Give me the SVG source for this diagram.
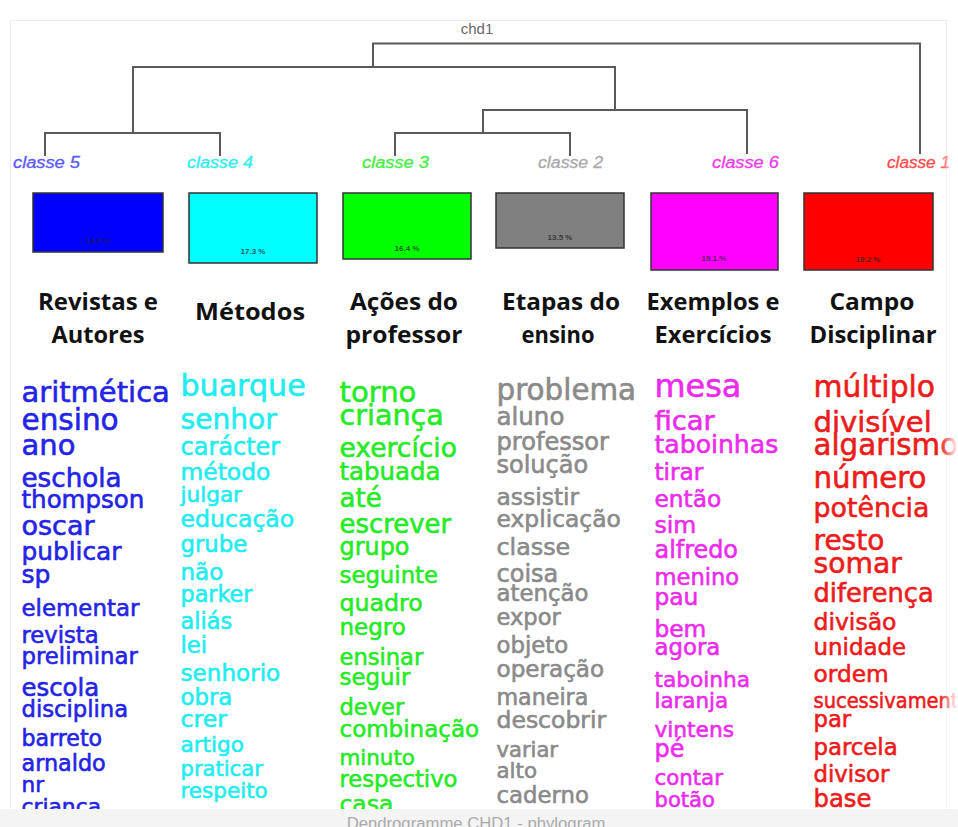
<svg xmlns="http://www.w3.org/2000/svg" width="958" height="827" viewBox="0 0 958 827">
<defs>
<style>
.frame{fill:none;stroke:#ececec;stroke-width:1}
.dl{fill:none;stroke:#5a5a5a;stroke-width:2;stroke-linecap:square}
.cl{font-family:"Liberation Sans",Arial,sans-serif;font-style:italic;font-size:16px;stroke-width:0.3}
.box{stroke:#333;stroke-width:1.5}
.pct{font-family:"Liberation Sans",Arial,sans-serif;font-size:8px;font-weight:bold;fill:#222;fill-opacity:0.75;text-anchor:middle}
.hd{font-family:"Open Sans","DejaVu Sans",sans-serif;font-weight:700;font-size:23px;fill:#111;text-anchor:middle}
.w{font-family:"DejaVu Sans",Verdana,sans-serif;stroke-width:0.6}
.c5{fill:#2424e6;stroke:#2424e6}.c4{fill:#22ecf0;stroke:#22ecf0}.c3{fill:#26ea26;stroke:#26ea26}.c2{fill:#8a8a8a;stroke:#8a8a8a}.c6{fill:#ec2cec;stroke:#ec2cec}.c1{fill:#ec1c1c;stroke:#ec1c1c}
</style>
<clipPath id="wc"><rect x="0" y="370" width="958" height="439"/></clipPath>
<linearGradient id="fade" x1="0" y1="0" x2="1" y2="0">
<stop offset="0" stop-color="#fff" stop-opacity="0"/>
<stop offset="1" stop-color="#fff" stop-opacity="1"/>
</linearGradient>
</defs>
<rect x="0" y="0" width="958" height="827" fill="#fff"/>
<rect class="frame" x="10.5" y="20.5" width="936" height="789"/>
<text x="477" y="34" font-family="Liberation Sans,Arial,sans-serif" font-size="15" fill="#6a6a6a" text-anchor="middle">chd1</text>

<g id="connectors">
<path class="dl" d="M373,67 V43.5 H920 V153"/>
<path class="dl" d="M133,133 V67 H615 V110"/>
<path class="dl" d="M45,155 V133 H220 V155"/>
<path class="dl" d="M483,133 V110 H747 V153"/>
<path class="dl" d="M395,155 V133 H570 V155"/>
</g>

<g id="classe5">
<text class="cl" x="13" y="168" textLength="67" lengthAdjust="spacingAndGlyphs" fill="#5a5aff" stroke="#5a5aff">classe 5</text>
<rect class="box" x="33" y="193" width="130" height="59" fill="#0000ff"/>
<text class="pct" x="98" y="243">14.6 %</text>
<text class="hd" x="98" y="310" textLength="120" lengthAdjust="spacingAndGlyphs">Revistas e</text>
<text class="hd" x="98" y="343" textLength="93" lengthAdjust="spacingAndGlyphs">Autores</text>
<g clip-path="url(#wc)" class="w c5">
<text x="21.5" y="402" font-size="29">aritmética</text>
<text x="21.5" y="430" font-size="29.5">ensino</text>
<text x="21.5" y="455" font-size="29">ano</text>
<text x="21.5" y="487" font-size="26.2">eschola</text>
<text x="21.5" y="508" font-size="24.5">thompson</text>
<text x="21.5" y="535" font-size="27">oscar</text>
<text x="21.5" y="560" font-size="24.8">publicar</text>
<text x="21.5" y="583" font-size="25">sp</text>
<text x="21.5" y="616" font-size="22.9">elementar</text>
<text x="21.5" y="643" font-size="22.7">revista</text>
<text x="21.5" y="664" font-size="22.8">preliminar</text>
<text x="21.5" y="696" font-size="24.4">escola</text>
<text x="21.5" y="717" font-size="22.7">disciplina</text>
<text x="21.5" y="746" font-size="22.1">barreto</text>
<text x="21.5" y="771" font-size="22.3">arnaldo</text>
<text x="21.5" y="792" font-size="21.6">nr</text>
<text x="21.5" y="814" font-size="21.8">criança</text>
</g>
</g>

<g id="classe4">
<text class="cl" x="187" y="168" textLength="66" lengthAdjust="spacingAndGlyphs" fill="#30ecf4" stroke="#30ecf4">classe 4</text>
<rect class="box" x="189" y="193" width="128" height="70" fill="#00ffff"/>
<text class="pct" x="253" y="254">17.3 %</text>
<text class="hd" x="250" y="320" textLength="110" lengthAdjust="spacingAndGlyphs">Métodos</text>
<g clip-path="url(#wc)" class="w c4">
<text x="180.5" y="396" font-size="30.1">buarque</text>
<text x="180.5" y="429" font-size="28.1">senhor</text>
<text x="180.5" y="455" font-size="24">carácter</text>
<text x="180.5" y="480" font-size="23.4">método</text>
<text x="180.5" y="502" font-size="21.6">julgar</text>
<text x="180.5" y="527" font-size="23.6">educação</text>
<text x="180.5" y="552" font-size="22.8">grube</text>
<text x="180.5" y="580" font-size="23">não</text>
<text x="180.5" y="602" font-size="22.3">parker</text>
<text x="180.5" y="629" font-size="22.4">aliás</text>
<text x="180.5" y="653" font-size="22.8">lei</text>
<text x="180.5" y="681" font-size="23.1">senhorio</text>
<text x="180.5" y="705" font-size="22.8">obra</text>
<text x="180.5" y="727" font-size="23.6">crer</text>
<text x="180.5" y="752" font-size="21.6">artigo</text>
<text x="180.5" y="776" font-size="21.1">praticar</text>
<text x="180.5" y="798" font-size="21.5">respeito</text>
</g>
</g>

<g id="classe3">
<text class="cl" x="362" y="168" textLength="67" lengthAdjust="spacingAndGlyphs" fill="#44ee44" stroke="#44ee44">classe 3</text>
<rect class="box" x="343" y="193" width="128" height="66" fill="#00ff00"/>
<text class="pct" x="407" y="251">16.4 %</text>
<text class="hd" x="404" y="310" textLength="108" lengthAdjust="spacingAndGlyphs">Ações do</text>
<text class="hd" x="404" y="343" textLength="117" lengthAdjust="spacingAndGlyphs">professor</text>
<g clip-path="url(#wc)" class="w c3">
<text x="339.5" y="402" font-size="29.1">torno</text>
<text x="339.5" y="425" font-size="28.6">criança</text>
<text x="339.5" y="457" font-size="26.5">exercício</text>
<text x="339.5" y="480" font-size="24.4">tabuada</text>
<text x="339.5" y="507" font-size="26">até</text>
<text x="339.5" y="533" font-size="25.9">escrever</text>
<text x="339.5" y="555" font-size="23.9">grupo</text>
<text x="339.5" y="583" font-size="22.8">seguinte</text>
<text x="339.5" y="611" font-size="23.7">quadro</text>
<text x="339.5" y="635" font-size="23">negro</text>
<text x="339.5" y="665" font-size="22.6">ensinar</text>
<text x="339.5" y="685" font-size="22.9">seguir</text>
<text x="339.5" y="715" font-size="22.6">dever</text>
<text x="339.5" y="737" font-size="23">combinação</text>
<text x="339.5" y="765" font-size="21.4">minuto</text>
<text x="339.5" y="787" font-size="22.7">respectivo</text>
<text x="339.5" y="812" font-size="23.4">casa</text>
</g>
</g>

<g id="classe2">
<text class="cl" x="538" y="168" textLength="65" lengthAdjust="spacingAndGlyphs" fill="#aaaaaa" stroke="#aaaaaa">classe 2</text>
<rect class="box" x="496" y="193" width="128" height="55" fill="#808080"/>
<text class="pct" x="560" y="240">13.5 %</text>
<text class="hd" x="561" y="310" textLength="118" lengthAdjust="spacingAndGlyphs">Etapas do</text>
<text class="hd" x="558" y="343" textLength="73" lengthAdjust="spacingAndGlyphs">ensino</text>
<g clip-path="url(#wc)" class="w c2">
<text x="496.5" y="400" font-size="29.4">problema</text>
<text x="496.5" y="425" font-size="24.5">aluno</text>
<text x="496.5" y="450" font-size="24.1">professor</text>
<text x="496.5" y="473" font-size="24">solução</text>
<text x="496.5" y="505" font-size="23.4">assistir</text>
<text x="496.5" y="527" font-size="23.4">explicação</text>
<text x="496.5" y="555" font-size="23.8">classe</text>
<text x="496.5" y="582" font-size="24">coisa</text>
<text x="496.5" y="601" font-size="22.8">atenção</text>
<text x="496.5" y="625" font-size="22.6">expor</text>
<text x="496.5" y="653" font-size="22.8">objeto</text>
<text x="496.5" y="677" font-size="23.1">operação</text>
<text x="496.5" y="705" font-size="22.2">maneira</text>
<text x="496.5" y="728" font-size="23.5">descobrir</text>
<text x="496.5" y="757" font-size="21.1">variar</text>
<text x="496.5" y="778" font-size="21.4">alto</text>
<text x="496.5" y="803" font-size="22.8">caderno</text>
</g>
</g>

<g id="classe6">
<text class="cl" x="712" y="168" textLength="67" lengthAdjust="spacingAndGlyphs" fill="#ee3cee" stroke="#ee3cee">classe 6</text>
<rect class="box" x="651" y="193" width="127" height="77" fill="#ff00ff"/>
<text class="pct" x="714" y="261">19.1 %</text>
<text class="hd" x="713" y="310" textLength="133" lengthAdjust="spacingAndGlyphs">Exemplos e</text>
<text class="hd" x="713" y="343" textLength="117" lengthAdjust="spacingAndGlyphs">Exercícios</text>
<g clip-path="url(#wc)" class="w c6">
<text x="654.5" y="397" font-size="31.9">mesa</text>
<text x="654.5" y="430" font-size="27.4">ficar</text>
<text x="654.5" y="453" font-size="25.1">taboinhas</text>
<text x="654.5" y="480" font-size="23.2">tirar</text>
<text x="654.5" y="507" font-size="23.3">então</text>
<text x="654.5" y="533" font-size="23.6">sim</text>
<text x="654.5" y="558" font-size="23.9">alfredo</text>
<text x="654.5" y="585" font-size="22.6">menino</text>
<text x="654.5" y="605" font-size="23.3">pau</text>
<text x="654.5" y="637" font-size="23.3">bem</text>
<text x="654.5" y="655" font-size="22.8">agora</text>
<text x="654.5" y="687" font-size="21.7">taboinha</text>
<text x="654.5" y="708" font-size="21.4">laranja</text>
<text x="654.5" y="737" font-size="21.7">vintens</text>
<text x="654.5" y="757" font-size="23.9">pé</text>
<text x="654.5" y="785" font-size="21.3">contar</text>
<text x="654.5" y="807" font-size="21.1">botão</text>
</g>
</g>

<g id="classe1">
<text class="cl" x="887" y="168" textLength="63" lengthAdjust="spacingAndGlyphs" fill="#ff4c4c" stroke="#ff4c4c">classe 1</text>
<rect class="box" x="804" y="193" width="129" height="77" fill="#ff0000"/>
<text class="pct" x="868" y="262">19.2 %</text>
<text class="hd" x="872" y="310" textLength="85" lengthAdjust="spacingAndGlyphs">Campo</text>
<text class="hd" x="873" y="343" textLength="127" lengthAdjust="spacingAndGlyphs">Disciplinar</text>
<g clip-path="url(#wc)" class="w c1">
<text x="813.5" y="397" font-size="29.8">múltiplo</text>
<text x="813.5" y="432" font-size="29.1">divisível</text>
<text x="813.5" y="455" font-size="29.3">algarismo</text>
<text x="813.5" y="488" font-size="29.3">número</text>
<text x="813.5" y="517" font-size="26.8">potência</text>
<text x="813.5" y="550" font-size="28">resto</text>
<text x="813.5" y="573" font-size="28.2">somar</text>
<text x="813.5" y="602" font-size="25.7">diferença</text>
<text x="813.5" y="630" font-size="23.5">divisão</text>
<text x="813.5" y="655" font-size="22.9">unidade</text>
<text x="813.5" y="682" font-size="23.3">ordem</text>
<text x="813.5" y="708" font-size="22" textLength="157" lengthAdjust="spacingAndGlyphs">sucessivamente</text>
<text x="813.5" y="727" font-size="22.7">par</text>
<text x="813.5" y="755" font-size="22.8">parcela</text>
<text x="813.5" y="782" font-size="22.8">divisor</text>
<text x="813.5" y="807" font-size="24.3">base</text>
</g>
</g>

<rect x="940" y="150" width="18" height="660" fill="url(#fade)"/>
<rect x="0" y="809" width="958" height="18" fill="#f4f4f4"/>
<text x="476" y="829" font-family="Liberation Sans,Arial,sans-serif" font-size="16.7" fill="#aaa" text-anchor="middle">Dendrogramme CHD1 - phylogram</text>
</svg>
